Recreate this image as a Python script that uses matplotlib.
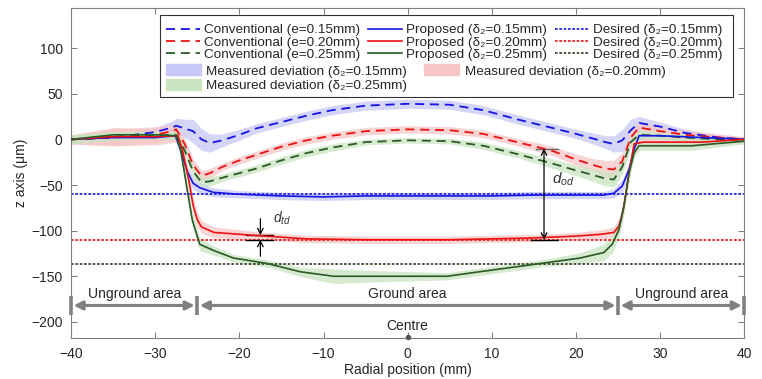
import matplotlib as mpl
mpl.use('Agg')
import matplotlib.pyplot as plt
from matplotlib.patches import Rectangle, Patch
from matplotlib.lines import Line2D
import numpy as np

plt.rcParams['font.family'] = ['Liberation Sans', 'DejaVu Sans']
plt.rcParams['mathtext.fontset'] = 'custom'
plt.rcParams['mathtext.rm'] = 'Liberation Sans'
plt.rcParams['mathtext.it'] = 'Liberation Sans:italic'

# ---- data (x in mm, z in um) ----
x_conv = [-40, -35, -30, -28, -27.5, -26.5, -25.5, -24.5, -23.5, -22, -20, -18, -15, -12, -9,
          -5, 0, 5, 9, 13, 17, 20, 22, 23.5, 24.5, 25.5, 26.5, 27.5, 30, 33, 37, 40]
conv_015 = [0, 2, 8, 13, 15, 12, 9, 0, -4, -1, 5, 12, 19, 26, 32, 37, 39, 38, 32, 22, 13, 6, 1, -3,
            -5, -1, 10, 18, 14, 7, 2, 0]
conv_020 = [0, 2, 5, 9, 11, -5, -28, -40, -37, -30, -23, -17, -8, -1, 4, 9, 11, 10, 6, -3, -12,
            -22, -28, -32, -33, -24, 2, 13, 9, 5, 2, 0]
conv_025 = [0, 3, 4, 5, 5, -12, -35, -47, -46, -42, -37, -32, -23, -15, -9, -3, -1, -2, -7, -16,
            -26, -34, -39, -43, -44, -30, -3, 5, 4, 2, 0, -1]
band_conv_015 = [3, 3, 5, 7, 8, 10, 13, 12, 10, 7, 6, 5, 5, 5, 5, 5, 5, 5, 5, 5, 5, 5, 6, 7, 9,
                 12, 12, 7, 5, 4, 3, 2]
band_conv_020 = [5, 9, 9, 7, 6, 6, 7, 6, 5, 4, 4, 4, 4, 4, 4, 4, 4, 4, 4, 4, 5, 6, 7, 9, 10,
                 10, 8, 6, 6, 5, 4, 3]
band_conv_025 = [5, 4, 4, 4, 4, 5, 6, 5, 5, 4, 4, 4, 4, 4, 4, 3, 3, 3, 4, 4, 5, 6, 7, 8, 8,
                 8, 6, 5, 4, 4, 3, 3]

x_prop_015 = [-40, -35, -30, -27.6, -27.0, -26.2, -25.5, -24.7, -23.1, -20.3, -15, -10, -5, 0, 5,
              10, 15, 20, 23.3, 24.5, 25.5, 26.3, 26.9, 27.5, 30, 35, 40]
prop_015 = [0, 2, 2, 4, -11, -35, -48, -53, -58, -60, -62, -63, -62, -62, -62, -62, -61, -61, -61,
            -59, -51, -33, -11, 4, 4, 2, 0]
band_prop_015 = [3, 3, 3, 5, 6, 7, 7, 6, 5, 4, 4, 4, 4, 4, 4, 4, 4, 4, 4, 5, 7, 7, 6, 5, 4, 3, 2]

x_prop_020 = [-40, -35, -30, -27.3, -26.8, -26, -25.5, -25, -24.5, -23, -20, -17, -12, -5, 0, 5,
              10, 15, 20, 23, 24.5, 25.1, 25.6, 26.3, 26.9, 28, 35, 40]
prop_020 = [0, 3, 3, 4, -10, -45, -72, -88, -96, -102, -104, -106, -109, -110, -110, -110, -109,
            -108, -106, -104, -102, -95, -78, -37, -5, -3, -3, 0]
band_prop_020 = [5, 10, 9, 7, 8, 9, 9, 8, 7, 6, 5, 4, 4, 4, 4, 4, 4, 4, 4, 5, 6, 8, 9, 9, 7, 6,
                 5, 3]

x_prop_025 = [-40, -35, -30, -27.5, -27.0, -26.2, -25.6, -24.7, -23, -20.7, -16.7, -12.8, -8.8,
              -3.3, 4.7, 8.6, 12.6, 16.6, 20.5, 23.3, 24.3, 25.1, 25.7, 26.3, 26.9, 27.5, 33.7, 40]
prop_025 = [0, 5, 5, 4, -10, -55, -88, -115, -122, -130, -136, -145, -150, -150, -150, -145, -140,
            -135, -130, -124, -115, -99, -73, -37, -15, -7, -7, -2]
band_prop_025 = [5, 4, 4, 4, 6, 8, 8, 7, 5, 4, 4, 5, 8, 6, 4, 4, 4, 4, 6, 9, 10, 9, 8, 6, 5,
                 5, 5, 3]

desired_levels = [-60, -110, -137]

area_bounds = [-40, -25, 25, 40]
area_labels = ['Unground area', 'Ground area', 'Unground area']

c_blue = '#1414e6'
c_red = '#ee1111'
c_green = '#2b5a26'
c_green_dot = '#333f22'
f_blue = '#c8c8f6'
f_red = '#f6c6c6'
f_green = '#c9e4c1'
gray = '#808080'

fig = plt.figure(figsize=(7.62, 3.79), dpi=100)
ax = fig.add_axes([0.0932, 0.1074, 0.8836, 0.8715])

# measured deviation bands
def band(x, y, hw, color):
    x = np.array(x)
    y = np.array(y)
    hw = np.array(hw)
    ax.fill_between(x, y - hw, y + hw, color=color, alpha=0.75, lw=0, zorder=1)

band(x_conv, conv_015, band_conv_015, f_blue)
band(x_prop_015, prop_015, band_prop_015, f_blue)
band(x_conv, conv_020, band_conv_020, f_red)
band(x_prop_020, prop_020, band_prop_020, f_red)
band(x_conv, conv_025, band_conv_025, f_green)
band(x_prop_025, prop_025, band_prop_025, f_green)

dash = (0, (5, 3.2))
dot = (0, (1.6, 1.0))
ax.plot(x_conv, conv_015, color=c_blue, lw=1.3, ls=dash, zorder=3)
ax.plot(x_conv, conv_020, color=c_red, lw=1.3, ls=dash, zorder=3)
ax.plot(x_conv, conv_025, color=c_green, lw=1.3, ls=dash, zorder=3)
ax.plot(x_prop_015, prop_015, color=c_blue, lw=1.2, zorder=3)
ax.plot(x_prop_020, prop_020, color=c_red, lw=1.2, zorder=3)
ax.plot(x_prop_025, prop_025, color=c_green, lw=1.2, zorder=3)
for lev, c in zip(desired_levels, [c_blue, c_red, c_green_dot]):
    ax.axhline(lev, color=c, lw=1.2, ls=dot, zorder=2)

# ground / unground area arrows
ya = -182
for b in area_bounds:
    ax.plot([b, b], [-172, -193], color=gray, lw=2.6, solid_capstyle='butt', zorder=4, clip_on=False)
for i, lab in enumerate(area_labels):
    a, b = area_bounds[i], area_bounds[i + 1]
    ax.annotate('', xy=(b - 0.3, ya), xytext=(a + 0.3, ya),
                arrowprops=dict(arrowstyle='<|-|>', color=gray, lw=2.2, mutation_scale=13,
                                shrinkA=0, shrinkB=0), zorder=4)
    ax.text((a + b) / 2, ya + 5, lab, ha='center', va='bottom', fontsize=10, color='#262626')

# centre marker
ax.plot(0, -217, marker='o', ms=3, color='#555555', clip_on=False, zorder=5)
ax.text(0, -205, 'Centre', ha='center', va='center', fontsize=10, color='#262626')

# d_td annotation
xt = -17.5
ax.plot([-19.2, -16.0], [-105, -105], color='k', lw=1)
ax.plot([-19.2, -16.0], [-110, -110], color='k', lw=1)
ax.annotate('', xy=(xt, -105), xytext=(xt, -87),
            arrowprops=dict(arrowstyle='->', color='k', lw=0.9, shrinkA=0, shrinkB=0))
ax.annotate('', xy=(xt, -110), xytext=(xt, -128),
            arrowprops=dict(arrowstyle='->', color='k', lw=0.9, shrinkA=0, shrinkB=0))
ax.text(-16.0, -86, r'$d_{td}$', fontsize=10, color='#333333', ha='left', va='center')

# d_od annotation
xo = 16.2
ax.plot([15.3, 17.9], [-10, -10], color='#666666', lw=1)
ax.plot([14.6, 17.9], [-110, -110], color='k', lw=1)
ax.annotate('', xy=(xo, -110), xytext=(xo, -10),
            arrowprops=dict(arrowstyle='<->', color='k', lw=0.9, shrinkA=0, shrinkB=0))
ax.text(17.1, -44, r'$d_{od}$', fontsize=11, color='#333333', ha='left', va='center')

ax.set_xlim(-40, 40)
ax.set_ylim(-218, 144)
ax.set_xticks(np.arange(-40, 41, 10))
ax.set_yticks(np.arange(-200, 101, 50))
ax.tick_params(direction='in', length=4, top=True, right=True, labelsize=10,
               colors='#808080', labelcolor='#262626', pad=6)
for s in ax.spines.values():
    s.set_color('#808080')
ax.set_xlabel('Radial position (mm)', fontsize=10, color='#262626', labelpad=2)
ax.set_ylabel('z axis (\u03bcm)', fontsize=10, color='#262626', labelpad=2)

# legend (frame drawn separately so the two blocks share one box)
frame = Rectangle((0.1322, 0.7311), 0.8510, 0.2477, transform=ax.transAxes,
                  facecolor='white', edgecolor='#333333', lw=0.8, zorder=6)
ax.add_patch(frame)
h1 = [
    Line2D([], [], color=c_blue, lw=1.3, ls=dash),
    Line2D([], [], color=c_red, lw=1.3, ls=dash),
    Line2D([], [], color=c_green, lw=1.3, ls=dash),
    Line2D([], [], color=c_blue, lw=1.2),
    Line2D([], [], color=c_red, lw=1.2),
    Line2D([], [], color=c_green, lw=1.2),
    Line2D([], [], color=c_blue, lw=1.2, ls=dot),
    Line2D([], [], color=c_red, lw=1.2, ls=dot),
    Line2D([], [], color=c_green_dot, lw=1.2, ls=dot),
]
d2 = '\u03b4\u2082'
l1 = ['Conventional (e=0.15mm)', 'Conventional (e=0.20mm)', 'Conventional (e=0.25mm)',
      f'Proposed ({d2}=0.15mm)', f'Proposed ({d2}=0.20mm)', f'Proposed ({d2}=0.25mm)',
      f'Desired ({d2}=0.15mm)', f'Desired ({d2}=0.20mm)', f'Desired ({d2}=0.25mm)']
leg1 = ax.legend(h1, l1, ncol=3, loc='upper left', bbox_to_anchor=(0.141, 0.952), frameon=False,
                 fontsize=9.7, handlelength=2.5, handletextpad=0.35, columnspacing=0.55,
                 labelspacing=0.0, borderpad=0, borderaxespad=0)
leg1.set_zorder(7)
ax.add_artist(leg1)
h2 = [Patch(color=f_blue), Patch(color=f_green), Patch(color=f_red)]
l2 = [f'Measured deviation ({d2}=0.15mm)', f'Measured deviation ({d2}=0.25mm)',
      f'Measured deviation ({d2}=0.20mm)']
leg2 = ax.legend(h2, l2, ncol=2, loc='upper left', bbox_to_anchor=(0.141, 0.829), frameon=False,
                 fontsize=9.7, handlelength=2.6, handleheight=0.85, handletextpad=0.4,
                 columnspacing=1.25, labelspacing=0.12, borderpad=0, borderaxespad=0)
leg2.set_zorder(7)
for t in leg1.get_texts() + leg2.get_texts():
    t.set_color('#262626')

fig.savefig('out.png', dpi=100)
